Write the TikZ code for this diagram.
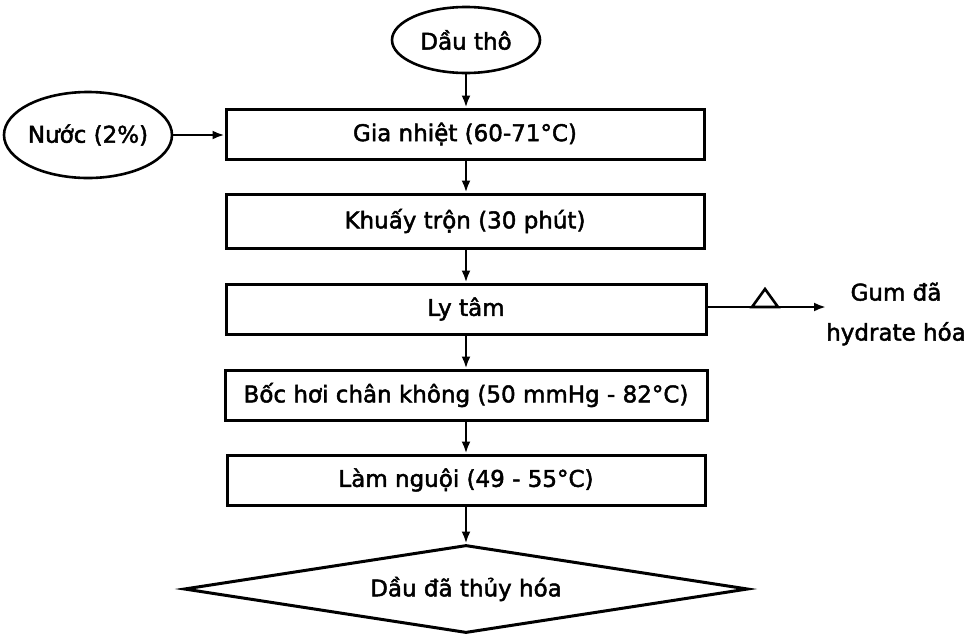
\documentclass[tikz,border=0pt]{standalone}
\usepackage{fontspec}
\setmainfont[FakeBold=2,BoldFont={DejaVu Sans}]{DejaVu Sans}
\usetikzlibrary{shapes.geometric,arrows.meta}
\begin{document}
\begin{tikzpicture}[x=1pt,y=-1pt,
  every node/.style={font=\fontsize{23}{28}\selectfont\bfseries},
  procbox/.style={draw,line width=3pt,minimum width=478pt,minimum height=50pt,inner sep=0pt},
  oval/.style={draw,ellipse,line width=2.6pt,inner sep=0pt},
  flow/.style={line width=2.4pt,-{Latex[length=12pt,width=9pt]}},
]
\useasboundingbox (0,0) rectangle (973,635);
\node[oval,minimum width=148pt,minimum height=66pt] (src) at (466,40) {Dầu thô};
\node[oval,minimum width=168pt,minimum height=86pt] (water) at (88,135) {\makebox[100pt]{Nước (2\%)}};
\node[procbox] (b1) at (465,134) {Gia nhiệt (60-71°C)};
\node[procbox,minimum height=54pt] (b2) at (465,221) {Khuấy trộn (30 phút)};
\node[procbox,minimum width=480pt] (b3) at (466,309) {Ly tâm};
\node[procbox,minimum width=482pt] (b4) at (466,395) {Bốc hơi chân không (50 mmHg - 82°C)};
\node[procbox] (b5) at (466,480) {Làm nguội (49 - 55°C)};
\node[draw,diamond,line width=3pt,shape aspect=6.4,minimum width=564pt,minimum height=88pt,inner sep=0pt] (prod) at (466,589) {Dầu đã thủy hóa};
\node[align=center,font=\fontsize{23}{40}\selectfont\bfseries] (gum) at (896,314) {Gum đã\\hydrate hóa};
\coordinate (gumtip) at (826,307);
\draw[flow] (src.south) -- (src.south |- b1.north);
\draw[flow] (water.east) -- (water.east -| b1.west);
\draw[flow] (b1.south -| src.south) -- (b2.north -| src.south);
\draw[flow] (b2.south -| src.south) -- (b3.north -| src.south);
\draw[flow] (b3.south -| src.south) -- (b4.north -| src.south);
\draw[flow] (b4.south -| src.south) -- (b5.north -| src.south);
\draw[flow] (b5.south -| src.south) -- (prod.north);
\draw[flow] (b3.east |- gumtip) -- (gumtip);
\draw[fill=white,line width=2.6pt,line join=miter] (752,307) -- (778,307) -- (765,289) -- cycle;
\end{tikzpicture}
\end{document}
